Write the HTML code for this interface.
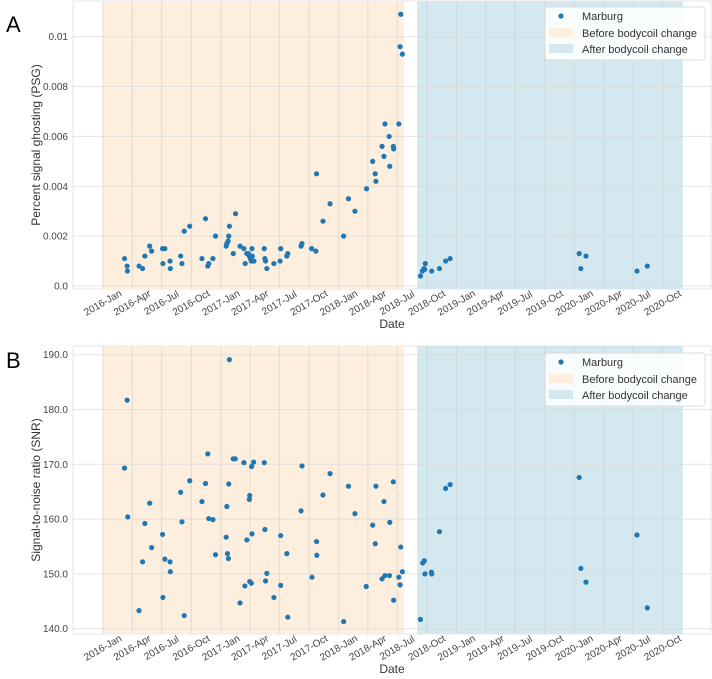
<!DOCTYPE html>
<html><head><meta charset="utf-8">
<style>
html,body{margin:0;padding:0;background:#fff;}
svg{display:block;font-family:"Liberation Sans",sans-serif;}
</style></head>
<body>
<svg id="fig" width="712" height="679" viewBox="0 0 712 679"></svg>
<script>
// x values: days since 2016-01-01
const psgDays = [67,75,76,112,123,130,145,151,185,192,186,208,209,241,245,252,269,307,318,325,328,341,349,382,384,388,390,392,404,411,425,437,441,446,451,454,457,460,462,463,468,500,502,504,508,530,549,551,570,573,614,617,647,660,662,682,704,746,761,781,817,836,844,846,865,871,874,887,889,900,901,917,921,923,928,984,990,995,999,997,1019,1043,1062,1076,1476,1481,1497,1655,1687];
const psgValues = [0.0011,0.0008,0.0006,0.0008,0.0007,0.0012,0.0016,0.0014,0.0015,0.0015,0.0009,0.001,0.0007,0.0012,0.0009,0.0022,0.0024,0.0011,0.0027,0.0008,0.0009,0.0011,0.002,0.0016,0.0017,0.0018,0.002,0.0024,0.0013,0.0029,0.0016,0.0015,0.0009,0.0013,0.0013,0.0012,0.0011,0.001,0.0015,0.0012,0.001,0.0015,0.0011,0.001,0.0007,0.0009,0.001,0.0015,0.0012,0.0013,0.0016,0.0017,0.0015,0.0014,0.0045,0.0026,0.0033,0.002,0.0035,0.003,0.0039,0.005,0.0045,0.0042,0.0056,0.0052,0.0065,0.006,0.0048,0.0056,0.0055,0.0065,0.0096,0.0109,0.0093,0.0004,0.0006,0.0007,0.0009,0.00067,0.0006,0.0007,0.001,0.0011,0.0013,0.0007,0.0012,0.0006,0.0008];
const snrDays = [67,75,77,112,123,130,145,151,185,186,192,208,209,241,245,252,269,307,318,325,328,341,349,382,384,386,389,390,392,404,410,425,437,440,446,454,455,455,460,461,462,467,500,502,504,508,530,551,551,570,573,614,617,648,662,663,682,704,746,761,781,816,836,844,846,865,871,874,888,889,900,901,917,921,923,928,984,991,996,998,1018,1019,1043,1062,1076,1476,1481,1497,1655,1687];
const snrValues = [169.3,181.7,160.4,143.3,152.2,159.2,162.9,154.8,157.2,145.7,152.7,152.2,150.4,164.9,159.5,142.4,167,163.2,166.5,171.9,160.1,159.9,153.5,156.7,162.3,153.7,152.8,166.4,189.1,171,171,144.7,170.3,147.8,156.2,163.6,164.3,148.6,148.3,169.6,157.3,170.4,170.3,158.1,148.7,150.1,145.7,157,147.9,153.7,142.1,161.5,169.7,149.4,155.9,153.4,164.4,168.3,141.3,166,161,147.7,158.9,155.5,166,149.1,163.2,149.7,149.7,159.4,166.8,145.2,149.4,148,154.9,150.4,141.7,152,152.4,150,150.3,150,157.7,165.6,166.3,167.6,151,148.5,157.1,143.8];
const psgTicks = [0,0.002,0.004,0.006,0.008,0.01];
const psgTickLabels = ["0.0","0.002","0.004","0.006","0.008","0.01"];
const snrTicks = [140,150,160,170,180,190];
const snrTickLabels = ["140.0","150.0","160.0","170.0","180.0","190.0"];
const xTickLabels = ["2016-Jan","2016-Apr","2016-Jul","2016-Oct","2017-Jan","2017-Apr","2017-Jul","2017-Oct","2018-Jan","2018-Apr","2018-Jul","2018-Oct","2019-Jan","2019-Apr","2019-Jul","2019-Oct","2020-Jan","2020-Apr","2020-Jul","2020-Oct"];
const beforeSpan = [0, 933];
const afterSpan = [974, 1797];

const NS = "http://www.w3.org/2000/svg";
const svg = document.getElementById('fig');
function mk(tag, attrs, parent){const e=document.createElementNS(NS,tag);for(const k in attrs)e.setAttribute(k,attrs[k]);(parent||svg).appendChild(e);return e;}
const base = Date.UTC(2016,0,1);
function tickDay(lbl){const mon={Jan:0,Apr:3,Jul:6,Oct:9};const [y,m]=lbl.split('-');return (Date.UTC(+y,mon[m],1)-base)/86400000;}
const xScale = d => 102.9 + d*0.3227;

function panel(opt){
  const g = mk('g',{});
  
  
  const L=73,R=711,T=opt.top,B=opt.bottom;
  const y = opt.yScale;
  const bg = mk('rect',{x:L,y:T,width:R-L,height:B-T,fill:'#fff',stroke:'#e6e6e6','stroke-width':1},g);
  
  
  const s1 = mk('rect',{x:xScale(beforeSpan[0]),y:T,width:xScale(beforeSpan[1])-xScale(beforeSpan[0]),height:B-T,fill:'#fdeedd'},g);
  
  
  const s2 = mk('rect',{x:xScale(afterSpan[0]),y:T,width:xScale(afterSpan[1])-xScale(afterSpan[0]),height:B-T,fill:'#d3e8ef'},g);
  
  
  opt.ticks.forEach((v,i)=>{
    const yy=y(v);
    const gl=mk('line',{x1:L,x2:R,y1:yy,y2:yy,stroke:'#d9d9d9','stroke-opacity':0.7,'stroke-width':1},g);
    
    
    const t=mk('text',{x:68,y:yy+3.5,'text-anchor':'end','font-size':10,fill:'#444'},g);
    t.textContent=opt.tickLabels[i];
    
    
  });
  xTickLabels.forEach(lbl=>{
    const xx=xScale(tickDay(lbl));
    const gl=mk('line',{x1:xx,x2:xx,y1:T,y2:B,stroke:'#cfcfcf','stroke-opacity':0.6,'stroke-width':1},g);
    
    
    const cy=B+14;
    const t=mk('text',{x:xx,y:cy+3,'text-anchor':'middle','font-size':10,fill:'#444',transform:`rotate(-30 ${xx} ${cy})`},g);
    t.textContent=lbl;
    
    
  });
  opt.days.forEach((d,i)=>{
    const c=mk('circle',{cx:xScale(d),cy:y(opt.values[i]),r:2.6,fill:'#1f77b4'},g);
    
    
  });
  const xt=mk('text',{x:392,y:B+39,'text-anchor':'middle','font-size':12,fill:'#333'},g);
  xt.textContent='Date';
  
  
  const cyT=(T+B)/2;
  const yt=mk('text',{x:40,y:cyT,'text-anchor':'middle','font-size':12,fill:'#333',transform:`rotate(-90 40 ${cyT})`},g);
  yt.textContent=opt.ytitle;
  
  
  const pl=mk('text',{x:6,y:opt.letterY,'font-size':22,fill:'#000'},g);
  pl.textContent=opt.letter;
  
  
  // legend
  const lg=mk('g',{},g);
  
  
  const ly=opt.legendY;
  mk('rect',{x:545,y:ly,width:160,height:53,fill:'#fff','fill-opacity':0.85,stroke:'#ddd',rx:3},lg);
  const e1=mk('circle',{cx:561,cy:ly+9,r:2.6,fill:'#1f77b4'},lg);
  
  
  const e2=mk('rect',{x:549,y:ly+21,width:24,height:9,fill:'#fdeedd'},lg);
  
  
  const e3=mk('rect',{x:549,y:ly+37,width:24,height:9,fill:'#d3e8ef'},lg);
  
  
  [['Marburg',ly+13],['Before bodycoil change',ly+30],['After bodycoil change',ly+46]].forEach(([s,yy])=>{
    const t=mk('text',{x:582,y:yy,'font-size':11,fill:'#333'},lg);
    t.textContent=s;
    
    
  });
}
panel({name:'psg-chart',top:1,bottom:289,yScale:v=>286-v*24930,ticks:psgTicks,tickLabels:psgTickLabels,days:psgDays,values:psgValues,ytitle:'Percent signal ghosting (PSG)',letter:'A',letterY:32,legendY:7});
panel({name:'snr-chart',top:346,bottom:634,yScale:v=>628.7-(v-140)*5.48,ticks:snrTicks,tickLabels:snrTickLabels,days:snrDays,values:snrValues,ytitle:'Signal-to-noise ratio (SNR)',letter:'B',letterY:368,legendY:353});
</script>
</body></html>
